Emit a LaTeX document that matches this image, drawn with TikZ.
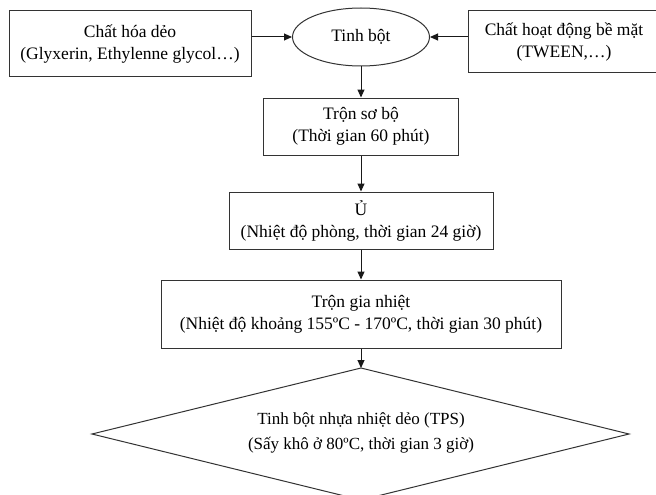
\documentclass[tikz,border=0pt]{standalone}
\usepackage{fontspec}
\setmainfont{Liberation Serif}
\usetikzlibrary{arrows.meta,shapes.geometric}
\begin{document}
\begin{tikzpicture}[x=1pt,y=-1pt,
  every node/.style={font=\fontsize{17.5}{22}\selectfont, text=black},
  stepbox/.style={draw=black!80, line width=1pt, align=center, inner sep=0pt},
  arr/.style={draw=black!90, line width=1pt, -{Triangle[length=8pt,width=7pt]}},
  ]
\useasboundingbox (0,0) rectangle (656,495);
\clip (0,0) rectangle (656,495);
\fill[white] (0,0) rectangle (656,495);
\node[stepbox, minimum width=242pt, minimum height=66pt] (lbox) at (130,44) {Chất hóa dẻo\\(Glyxerin, Ethylenne glycol…)};
\node[stepbox, minimum width=192pt, minimum height=62pt] (rbox) at (564,42) {Chất hoạt động bề mặt\\(TWEEN,…)};
\node[stepbox, ellipse, minimum width=137pt, minimum height=58pt] (ell) at (361,37) {Tinh bột};
\node[stepbox, minimum width=195pt, minimum height=57pt] (b2) at (361,126.5) {Trộn sơ bộ\\(Thời gian 60 phút)};
\node[stepbox, minimum width=264pt, minimum height=57pt] (b3) at (361,220.5) {Ủ\\(Nhiệt độ phòng, thời gian 24 giờ)};
\node[stepbox, minimum width=400pt, minimum height=68pt] (b4) at (361,314) {Trộn gia nhiệt\\(Nhiệt độ khoảng 155ºC - 170ºC, thời gian 30 phút)};
\coordinate (dtop) at (361,368);
\coordinate (dleft) at (92,434);
\coordinate (dright) at (629,434);
\coordinate (dbot) at (361,500);
\draw[draw=black!80, line width=1pt] (dtop) -- (dright) -- (dbot) -- (dleft) -- cycle;
\node[align=center, font=\fontsize{17}{25}\selectfont] (dtext) at (361,433) {Tinh bột nhựa nhiệt dẻo (TPS)\\(Sấy khô ở 80ºC, thời gian 3 giờ)};
\draw[arr] (lbox.east |- ell.west) -- (ell.west);
\draw[arr] (rbox.west |- ell.east) -- (ell.east);
\draw[arr] (ell.south) -- (b2.north);
\draw[arr] (b2.south) -- (b3.north);
\draw[arr] (b3.south) -- (b4.north);
\draw[arr] (b4.south) -- (dtop);
\end{tikzpicture}
\end{document}
